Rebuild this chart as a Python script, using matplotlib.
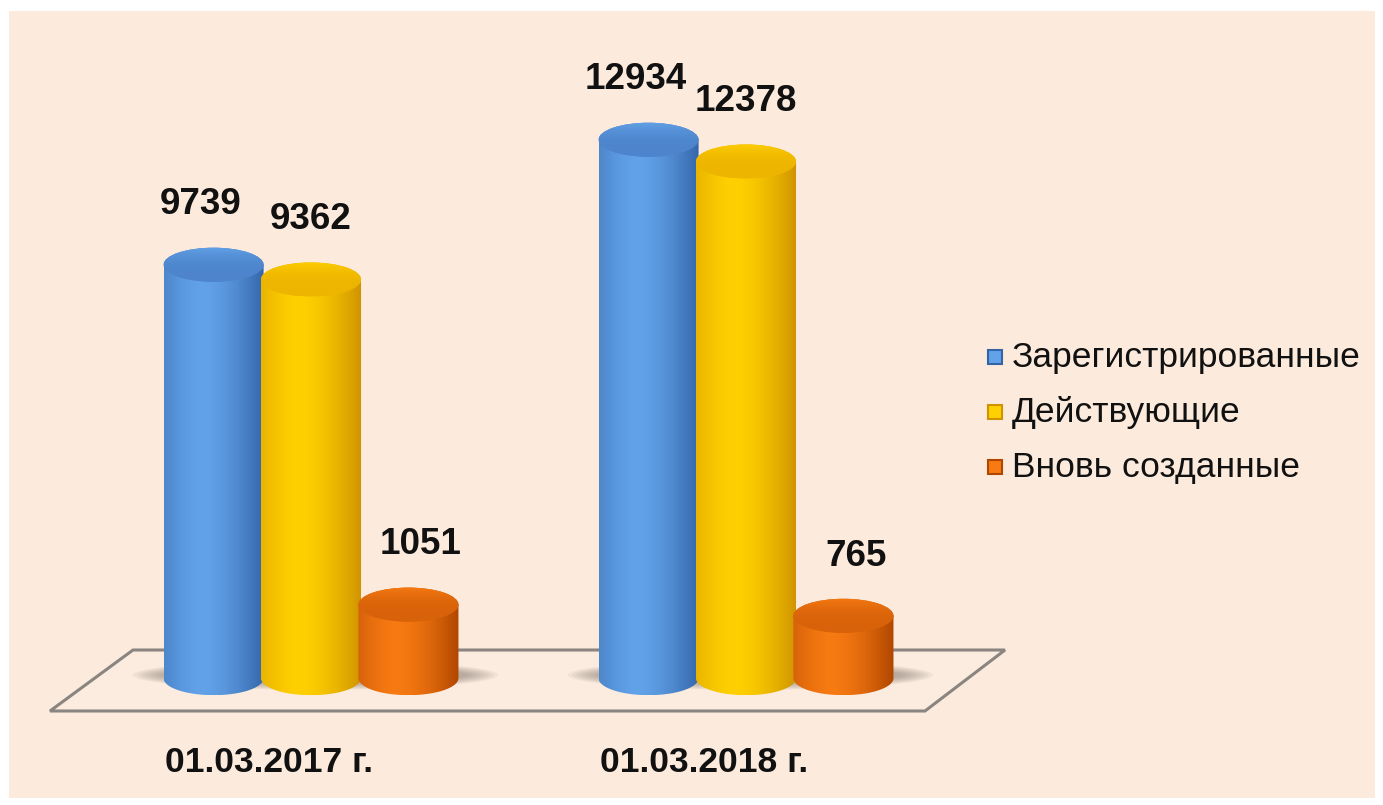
import numpy as np
import matplotlib
matplotlib.use("Agg")
import matplotlib.pyplot as plt
from matplotlib.patches import Polygon, Ellipse, Rectangle
from matplotlib.colors import to_rgb

# data
dates = ["01.03.2017 г.", "01.03.2018 г."]
series = ["Зарегистрированные", "Действующие", "Вновь созданные"]
registered = [9739, 12934]
active = [9362, 12378]
new_created = [1051, 765]

# colours: (bright, dark edge, top face)
colors = [("#62A2E8", "#3364A8", "#4D84CC"),
          ("#FFD000", "#CF9300", "#EDB400"),
          ("#F77A12", "#B04600", "#D8620A")]

W, H = 1383, 805
fig = plt.figure(figsize=(W / 100, H / 100), dpi=100)
fig.patch.set_facecolor("white")


def px(x, y):
    # pixel position -> figure fraction
    return (x / W, 1 - y / H)


# cream background panel and floor
bg = fig.add_axes([0, 0, 1, 1], zorder=0)
bg.set_xlim(0, W)
bg.set_ylim(H, 0)
bg.axis("off")
bg.add_patch(Rectangle((9, 11), 1366, 787, facecolor="#FCEBDD", edgecolor="none"))
floor = [(50, 711), (133, 650), (1005, 650), (925, 711)]
bg.add_patch(Polygon(floor, closed=True, facecolor="#FCECDF",
                     edgecolor="#8A8580", lw=2.2))

# main axes, same size as the figure
ax = fig.add_axes([0, 0, 1, 1], zorder=1)
ax.patch.set_alpha(0)
ax.axis("off")

n = len(dates)
xs = np.arange(n)
step = 0.224      # distance between cylinders in one group
hw = 0.115        # half width of a cylinder
ry = 435          # half height of the ellipses (value units)
base = -830       # cylinder bottom on the floor

values = [registered, active, new_created]


def shade(bright, dark, n=200):
    u = np.linspace(0, 1, n)
    f = 1 - np.clip(np.abs(u - 0.38) / 0.62, 0, 1) ** 1.6
    b = np.array(to_rgb(bright))
    d = np.array(to_rgb(dark))
    return (d[None, :] + (b - d)[None, :] * f[:, None])[None, :, :]


# soft shadows on the floor
for i in range(n):
    for k in range(8):
        sh = Ellipse((i + 0.01, base + 80), 0.84 - k * 0.02, 760 - k * 45,
                     facecolor="#6e625a", edgecolor="none", alpha=0.07, zorder=1)
        ax.add_patch(sh)

for j, vals in enumerate(values):
    bright, dark, topc = colors[j]
    for i in range(n):
        xc = xs[i] + (j - 1) * step
        v = vals[i]
        t = np.linspace(np.pi, 2 * np.pi, 60)
        pts = [(xc - hw, v), (xc - hw, base)]
        pts += list(zip(xc + hw * np.cos(t), base + ry * np.sin(t)))
        pts += [(xc + hw, v)]
        body = Polygon(pts, closed=True, facecolor="none", edgecolor="none")
        ax.add_patch(body)
        im = ax.imshow(shade(bright, dark), extent=[xc - hw, xc + hw, base - ry, v],
                       aspect="auto", zorder=2 + j, interpolation="bilinear")
        im.set_clip_path(body)
        # top face with a light front rim
        top = Ellipse((xc, v), 2 * hw, 2 * ry, facecolor=topc,
                      edgecolor="none", zorder=2 + j)
        ax.add_patch(top)
        rim = np.linspace(0, 1, 100)[:, None]
        tb = np.array(to_rgb(topc))
        lt = np.array(to_rgb(bright))
        grad = (tb[None, :] + (lt - tb)[None, :] * (rim ** 3))[:, None, :]
        tim = ax.imshow(grad, extent=[xc - hw, xc + hw, v + ry, v - ry],
                        aspect="auto", zorder=2 + j, interpolation="bilinear")
        tim.set_clip_path(top)
        ax.annotate(str(v), (xc, v), xytext=((j - 1) * 9, 43), textcoords="offset points",
                    ha="center", va="center", fontsize=26.5, fontweight="bold",
                    family="Liberation Sans", color="#111111", zorder=10)

for i, d in enumerate(dates):
    ax.annotate(d, (xs[i], base), xytext=(-30, -61), textcoords="offset points",
                ha="center", va="center", fontsize=25.5, fontweight="bold",
                family="Liberation Sans", color="#111111")

# map value scale to the picture
ax.set_xlim(-311 / 435, (W - 311) / 435)
ax.set_ylim(-(H - 645.7) / 0.03912, 645.7 / 0.03912)

# legend
for j, name in enumerate(series):
    y = 357 + j * 55
    bright, dark, topc = colors[j]
    x0, y0 = px(988, y + 7)
    fig.patches.append(Rectangle((x0, y0), 14 / W, 14 / H, transform=fig.transFigure,
                                 facecolor=bright, edgecolor=dark, lw=1.5, zorder=5))
    fig.text(*px(1012, y), name, fontsize=25.5, family="Liberation Sans",
             ha="left", va="center", color="#111111", zorder=5)

fig.savefig("out.png", dpi=100, facecolor=fig.get_facecolor())
